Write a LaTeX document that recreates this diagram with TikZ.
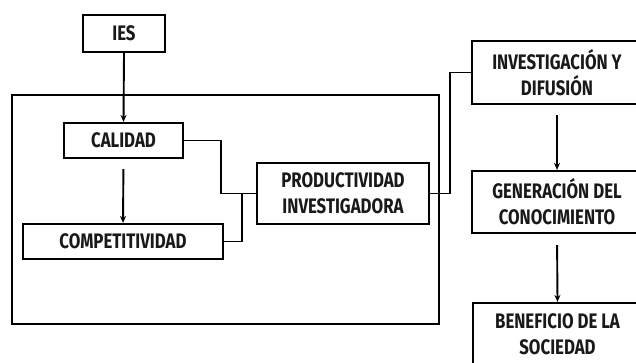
\documentclass[tikz,border=0pt]{standalone}
\usepackage{fontspec}
\newfontfamily\boxfont{Fira Sans Bold}[FakeStretch=0.8]
\usetikzlibrary{arrows.meta}
\begin{document}
\begin{tikzpicture}[x=1pt,y=-1pt,
  box/.style={draw=black,line width=2.2pt,fill=white,rectangle,inner sep=0pt,
    font=\boxfont\fontsize{21}{26}\selectfont,text=black!90,align=center},
  link/.style={draw=black,line width=1.9pt},
  arr/.style={link,-{Stealth[length=7pt,width=6pt]}}]
\path[use as bounding box,clip] (0,0) rectangle (636,362);
\fill[white] (0,0) rectangle (636,362);
\draw[line width=2.2pt] (12,95) rectangle (439,324);
\node[box,minimum width=82pt,minimum height=37pt] (ies) at (124,33.5) {IES};
\node[box,minimum width=119pt,minimum height=35pt] (cal) at (123.5,140.5) {CALIDAD};
\node[box,minimum width=200pt,minimum height=35pt] (comp) at (123,241.5) {COMPETITIVIDAD};
\node[box,minimum width=172pt,minimum height=61pt] (prod) at (343,193.5) {PRODUCTIVIDAD\\INVESTIGADORA};
\node[box,minimum width=170pt,minimum height=63pt] (inv) at (557,72.5) {INVESTIGACIÓN Y\\DIFUSIÓN};
\node[box,minimum width=170pt,minimum height=62pt] (gen) at (557,202) {GENERACIÓN DEL\\CONOCIMIENTO};
\node[box,minimum width=169pt,minimum height=63pt] (ben) at (557.5,334.5) {BENEFICIO DE LA\\SOCIEDAD};
\draw[arr] (ies.south) -- (cal.north);
\draw[arr,shorten <=10pt] (cal.south) -- (comp.north);
\draw[link] (cal.east) -- ++(37,0) |- (prod.west);
\draw[link] (comp.east) -- ++(18,0) |- (prod.west);
\draw[link] (prod.east) -- ++(20,0) |- (inv.west);
\draw[arr,shorten <=10pt] (inv.south) -- (gen.north);
\draw[arr,shorten <=11pt] (gen.south) -- (ben.north);
\end{tikzpicture}
\end{document}
